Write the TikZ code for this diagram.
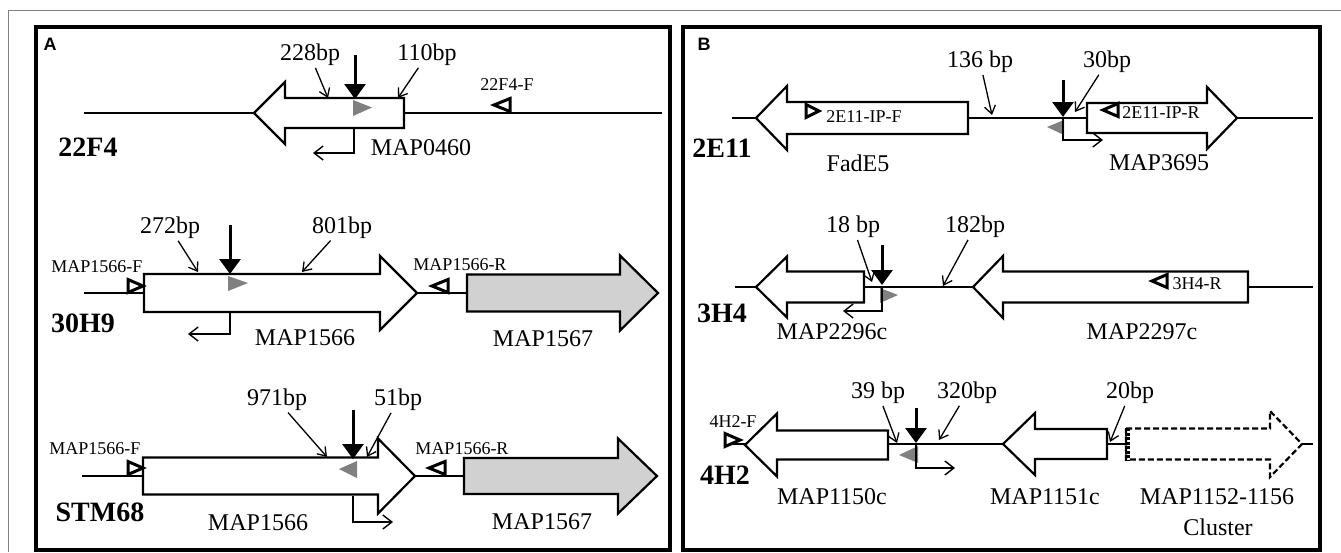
\documentclass[tikz,border=0pt]{standalone}
\usepackage{fontspec}
\setmainfont{Liberation Serif}
\newfontfamily\panelfont{Liberation Sans}
\usetikzlibrary{arrows.meta}

%% gene arrow: [style]{start x}{head base x}{tip x}{y}{half body}{half head}
\newcommand{\gene}[7][]{%
  \draw[genebox,#1] (#2,#5-#6) -- (#3,#5-#6) -- (#3,#5-#7) -- (#4,#5)
    -- (#3,#5+#7) -- (#3,#5+#6) -- (#2,#5+#6) -- cycle;}
%% primer triangles: {left x}{right x}{y}
\newcommand{\primerR}[3]{\draw[primer] (#1,#3-6.5) -- (#2,#3) -- (#1,#3+6.5) -- cycle;}
\newcommand{\primerL}[3]{\draw[primer] (#2,#3-6.5) -- (#1,#3) -- (#2,#3+6.5) -- cycle;}

\begin{document}
\begin{tikzpicture}[
  x=1pt, y=-1pt,
  every node/.style={inner sep=0pt, font=\fontsize{24}{26}\selectfont},
  primlbl/.style={font=\fontsize{18}{20}\selectfont},
  strain/.style={font=\fontsize{28}{30}\selectfont\bfseries},
  panellbl/.style={font=\fontsize{18}{20}\selectfont\panelfont\bfseries},
  panel/.style={draw, line width=3.4pt},
  backbone/.style={line width=2.2pt},
  genebox/.style={draw, line width=2.2pt, fill=white, line join=miter},
  grey/.style={fill=black!18},
  cluster/.style={dashed, dash pattern=on 6pt off 3pt},
  primer/.style={line width=3pt, fill=white, line join=miter},
  ins/.style={line width=3pt, -{Triangle[width=21pt,length=15pt]}},
  tsd/.style={fill=black!50},
  prom/.style={line width=1.4pt, -{Straight Barb[length=9pt,width=14pt,line width=1.4pt]}},
  ptr/.style={line width=1.3pt, shorten <=2pt, -{Straight Barb[length=8pt,width=11pt,line width=1.3pt]}}
]
\useasboundingbox (0,0) rectangle (1341,552);

%% ---- Outer frame ---------------------------------------------------
\draw[black!50, line width=1pt] (8,552) -- (8,10) -- (1341,10);

%% ---- Panel A -------------------------------------------------------
\draw[panel] (36,27) rectangle (670,550);
\node[panellbl] (labA) at (50,44) {A};

%% 22F4
\draw[backbone] (84,113) -- (662,113);
\gene{404}{285}{254}{113}{15}{31}
\primerL{494}{510}{105}
\fill[tsd] (353,100) -- (372,107.5) -- (353,116) -- cycle;
\draw[ins] (355,55) -- (355,99);
\draw[prom] (354,129) |- (313,153);
\node (b228) at (310,55) {228bp};
\node (b110) at (427,55) {110bp};
\node[primlbl] (p22f4) at (507,85) {22F4-F};
\node[strain] (s22f4) at (88,147) {22F4};
\node (g0460) at (421,148) {MAP0460};
\draw[ptr] (b228) -- (328,98);
\draw[ptr] (b110) -- (398,98);

%% 30H9
\draw[backbone] (84,293) -- (467,293);
\gene{144}{380}{417}{293}{19}{37}
\gene[grey]{467}{620}{658}{293}{18.5}{37.5}
\primerR{128}{143}{286}
\primerL{432}{448}{286}
\fill[tsd] (228,276) -- (248,283) -- (228,291) -- cycle;
\draw[ins] (230,225) -- (230,274);
\draw[prom] (230,312) |- (188,334);
\node[primlbl] (p1566fa) at (97,267) {MAP1566-F};
\node[primlbl] (p1566ra) at (460,265) {MAP1566-R};
\node (b272) at (170,228) {272bp};
\node (b801) at (342,228) {801bp};
\node[strain] (s30h9) at (83,323) {30H9};
\node (g1566a) at (305,338) {MAP1566};
\node (g1567a) at (543,339) {MAP1567};
\draw[ptr] (b272) -- (198,272);
\draw[ptr] (b801) -- (302,272);

%% STM68
\draw[backbone] (82,476) -- (464,476);
\gene{143}{378}{415}{476}{18.5}{37.5}
\gene[grey]{464}{618}{657}{476}{18}{37.5}
\primerR{128}{143}{468}
\primerL{429}{445}{468}
\fill[tsd] (357,461) -- (339,469) -- (357,478) -- cycle;
\draw[ins] (353,410) -- (353,459);
\draw[prom] (353,496) |- (393,522);
\node[primlbl] (p1566fb) at (95,449) {MAP1566-F};
\node[primlbl] (p1566rb) at (462,449) {MAP1566-R};
\node (b971) at (277,400) {971bp};
\node (b51) at (398,400) {51bp};
\node[strain] (sstm) at (100,512) {STM68};
\node (g1566b) at (258,523) {MAP1566};
\node (g1567b) at (542,522) {MAP1567};
\draw[ptr] (b971) -- (327,457);
\draw[ptr] (b51) -- (367,457);

%% ---- Panel B -------------------------------------------------------
\draw[panel] (683,27) rectangle (1320,550);
\node[panellbl] (labB) at (704,44) {B};

%% 2E11
\draw[backbone] (732,118) -- (1313,118);
\gene{968}{787}{756}{118}{16}{32}
\gene{1087}{1207}{1237}{118}{15}{31}
\primerR{806}{819}{111}
\primerL{1103}{1118}{110}
\fill[tsd] (1064,120) -- (1047,127) -- (1064,135) -- cycle;
\draw[ins] (1063,80) -- (1063,117);
\draw[prom] (1063,118) |- (1103,140);
\node[primlbl] (p2e11f) at (864,117) {2E11-IP-F};
\node[primlbl] (p2e11r) at (1161,113) {2E11-IP-R};
\node (b136) at (980,62) {136 bp};
\node (b30) at (1107,62) {30bp};
\node[strain] (s2e11) at (722,148) {2E11};
\node (gfad) at (858,163) {FadE5};
\node (g3695) at (1159,163) {MAP3695};
\draw[ptr] (b136) -- (992,115);
\draw[ptr] (b30) -- (1075,112);

%% 3H4
\draw[backbone] (735,287) -- (1313,287);
\gene{864}{787}{756}{287}{15.5}{30.5}
\gene{1248}{1003}{973}{287}{15.5}{31}
\primerL{1152}{1167}{281}
\fill[tsd] (880,288) -- (898,295) -- (880,303) -- cycle;
\draw[ins] (882,245) -- (882,285);
\draw[prom] (882,287) |- (843,311);
\node[primlbl] (p3h4r) at (1197,284) {3H4-R};
\node (b18) at (853,227) {18 bp};
\node (b182) at (975,227) {182bp};
\node[strain] (s3h4) at (722,313) {3H4};
\node (g2296) at (832,332) {MAP2296c};
\node (g2297) at (1142,332) {MAP2297c};
\draw[ptr] (b18) -- (872,282);
\draw[ptr] (b182) -- (943,286);

%% 4H2
\draw[backbone] (732,444) -- (1313,444);
\gene{888}{777}{745}{445}{14.5}{31.5}
\gene{1107}{1035}{1003}{444}{15}{31}
\gene[cluster]{1126}{1270}{1302}{444}{15.5}{33}
\draw[line width=5pt, dash pattern=on 3pt off 1.5pt] (1127,428) -- (1127,460);
\primerR{725}{740}{440}
\fill[tsd] (918,446) -- (899,455) -- (918,463) -- cycle;
\draw[ins] (916,408) -- (916,443);
\draw[prom] (916,445) |- (955,468);
\node[primlbl] (p4h2f) at (733,422) {4H2-F};
\node (b39) at (878,393) {39 bp};
\node (b320) at (967,393) {320bp};
\node (b20) at (1130,393) {20bp};
\node[strain] (s4h2) at (725,475) {4H2};
\node (g1150) at (832,497) {MAP1150c};
\node (g1151) at (1045,497) {MAP1151c};
\node (gclus) at (1217,497) {MAP1152-1156};
\node (gclus2) at (1218,527) {Cluster};
\draw[ptr] (b39) -- (897,443);
\draw[ptr] (b320) -- (939,440);
\draw[ptr] (b20) -- (1110,442);

\end{tikzpicture}
\end{document}
